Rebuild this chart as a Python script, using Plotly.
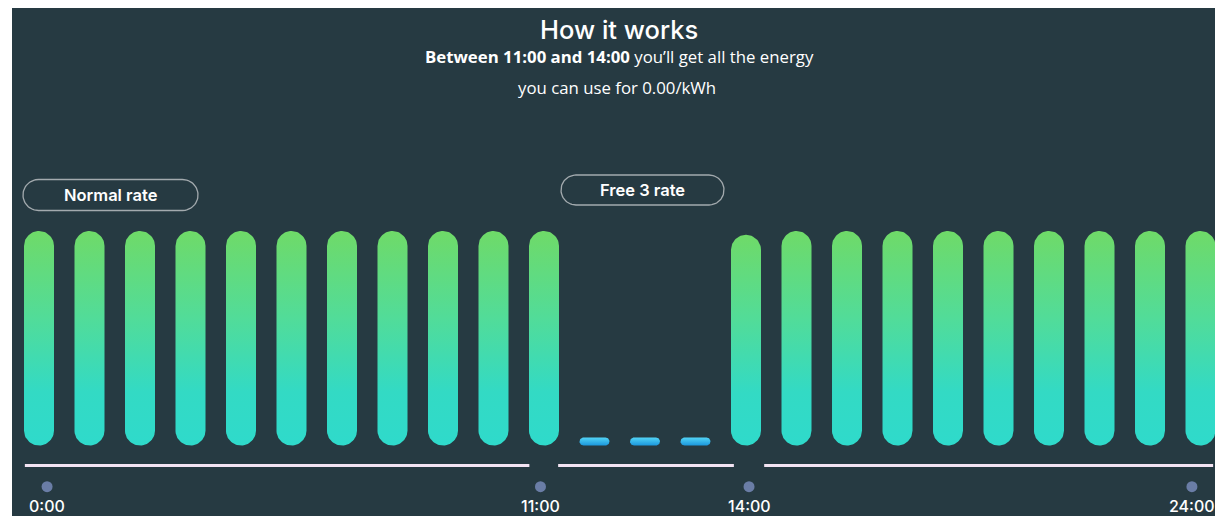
import numpy as np
import plotly.graph_objects as go

# ---------------- data ----------------
hour_index = [0, 1, 2, 3, 4, 5, 6, 7, 8, 9, 10, 11,
              12, 13, 14, 15, 16, 17, 18, 19, 20, 21, 22, 23]
rate_values = [28.0, 28.0, 28.0, 28.0, 28.0, 28.0, 28.0, 28.0, 28.0, 28.0, 28.0, 0.0,
               0.0, 0.0, 27.5, 28.0, 28.0, 28.0, 28.0, 28.0, 28.0, 28.0, 28.0, 28.0]
tick_labels = ["0:00", "11:00", "14:00", "24:00"]
tick_pos = [0.16, 9.93, 14.06, 22.83]
period_segments = [(-0.28, 9.71), (10.28, 13.76), (14.36, 23.25)]
period_labels = ["Normal rate", "Free 3 rate"]
title_text = "How it works"
subtitle_1 = "<b>Between 11:00 and 14:00</b> you\u2019ll get all the energy"
subtitle_2 = "you can use for 0.00/kWh"

# ---------------- geometry ----------------
FIG_W, FIG_H = 1215, 516
L, T = 12, 8
W, H = FIG_W - L, FIG_H - T
X0, X1 = -0.5347, 23.287
Y0, Y1 = -9.203, 57.11
ppx = W / (X1 - X0)
ppy = H / (Y1 - Y0)

BG = "#263a42"


def x2px(x):
    return L + (x - X0) * ppx


def px2x(p):
    return X0 + (p - L) / ppx


def y2py(y):
    return T + (Y1 - y) * ppy


def py2y(p):
    return Y1 - (p - T) / ppy


def rounded_rect(px0, px1, py0, py1, r, n=18):
    pts = []
    corners = [
        (px1 - r, py0 + r, -90, 0),
        (px1 - r, py1 - r, 0, 90),
        (px0 + r, py1 - r, 90, 180),
        (px0 + r, py0 + r, 180, 270),
    ]
    for cx, cy, a0, a1 in corners:
        for a in np.linspace(np.radians(a0), np.radians(a1), n):
            pts.append((cx + r * np.cos(a), cy + r * np.sin(a)))
    pts.append(pts[0])
    xs = [px2x(p[0]) for p in pts]
    ys = [py2y(p[1]) for p in pts]
    return xs, ys


fig = go.Figure()

BAR_W = 30
green_scale = [[0, "#2fdacb"], [0.25, "#33dac4"], [0.6, "#52dc98"], [1, "#6fda68"]]
blue_scale = [[0, "#1b97dc"], [1, "#52d4f7"]]

for i, v in zip(hour_index, rate_values):
    cx = x2px(i)
    base = y2py(0)
    if v > 0:
        top = y2py(v)
        xs, ys = rounded_rect(cx - BAR_W / 2, cx + BAR_W / 2, top, base, BAR_W / 2)
        scale = green_scale
    else:
        xs, ys = rounded_rect(cx - BAR_W / 2, cx + BAR_W / 2, base - 8, base, 4)
        scale = blue_scale
    fig.add_trace(go.Scatter(
        x=xs, y=ys, mode="lines", fill="toself",
        line=dict(width=0, color="rgba(0,0,0,0)"),
        fillgradient=dict(type="vertical", colorscale=scale),
        hoverinfo="skip", showlegend=False,
    ))

# period lines
line_y = py2y(465.5)
for a, b in period_segments:
    fig.add_trace(go.Scatter(
        x=[a, b], y=[line_y, line_y], mode="lines",
        line=dict(color="#f3e4f3", width=3),
        hoverinfo="skip", showlegend=False,
    ))

# tick dots
fig.add_trace(go.Scatter(
    x=tick_pos, y=[py2y(486.7)] * len(tick_pos), mode="markers",
    marker=dict(size=11, color="#6a7da6", line=dict(width=0)),
    hoverinfo="skip", showlegend=False,
))

annotations = []
for lab, p in zip(tick_labels, tick_pos):
    annotations.append(dict(
        x=p, y=py2y(506), xref="x", yref="y", text=lab, showarrow=False,
        font=dict(family="Inter", size=16, color="white", weight=500),
        xanchor="center", yanchor="middle",
    ))

# period label pills
pill_boxes = [(23, 198, 179.5, 210.5), (561, 724, 175, 205)]
for lab, (a, b, c, d) in zip(period_labels, pill_boxes):
    xs, ys = rounded_rect(a, b, c, d, (d - c) / 2)
    fig.add_trace(go.Scatter(
        x=xs, y=ys, mode="lines", line=dict(color="#a3aaae", width=1.3),
        hoverinfo="skip", showlegend=False,
    ))
    annotations.append(dict(
        x=px2x((a + b) / 2), y=py2y((c + d) / 2), xref="x", yref="y",
        text=lab, showarrow=False,
        font=dict(family="Inter", size=16.5, color="white", weight=600),
        xanchor="center", yanchor="middle",
    ))

# title and subtitle
annotations.append(dict(
    x=px2x(619), y=py2y(29), xref="x", yref="y", text=title_text, showarrow=False,
    font=dict(family="Inter", size=25.5, color="white", weight=500),
    xanchor="center", yanchor="middle",
))
annotations.append(dict(
    x=px2x(619), y=py2y(56), xref="x", yref="y", text=subtitle_1, showarrow=False,
    font=dict(family="Open Sans", size=16.8, color="white"), xanchor="center", yanchor="middle",
))
annotations.append(dict(
    x=px2x(617), y=py2y(87), xref="x", yref="y", text=subtitle_2, showarrow=False,
    font=dict(family="Open Sans", size=16.8, color="white"), xanchor="center", yanchor="middle",
))

fig.update_layout(
    width=FIG_W, height=FIG_H,
    margin=dict(l=L, r=0, t=T, b=0, pad=0),
    paper_bgcolor="white", plot_bgcolor=BG,
    xaxis=dict(range=[X0, X1], visible=False, fixedrange=True),
    yaxis=dict(range=[Y0, Y1], visible=False, fixedrange=True),
    showlegend=False, annotations=annotations, hovermode=False,
)

fig.write_html(
    "out.html",
    config={"displayModeBar": False, "staticPlot": True},
    post_script="document.body.style.margin='0';document.body.style.overflow='hidden';",
)
